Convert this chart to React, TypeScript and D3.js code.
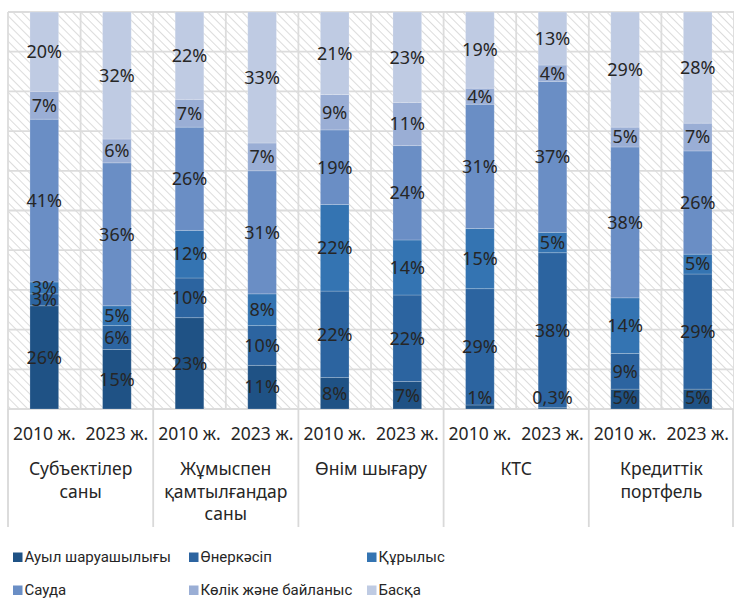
import * as d3 from 'd3';

const groups = [
  ['Субъектілер', 'саны'],
  ['Жұмыспен', 'қамтылғандар', 'саны'],
  ['Өнім шығару'],
  ['КТС'],
  ['Кредиттік', 'портфель'],
];
const years = ['2010 ж.', '2023 ж.'];

const sectors = ['Ауыл шаруашылығы', 'Өнеркәсіп', 'Құрылыс', 'Сауда', 'Көлік және байланыс', 'Басқа'];
const colors = ['#1f5285', '#2c64a0', '#3474b2', '#6a8ec5', '#9aaed5', '#bfcbe3'];

// one value per bar: group0 2010, group0 2023, group1 2010 ...
const agriculture = [26, 15, 23, 11, 8, 7, 1, 0.3, 5, 5];
const industry = [3, 6, 10, 10, 22, 22, 29, 38, 9, 29];
const construction = [3, 5, 12, 8, 22, 14, 15, 5, 14, 5];
const trade = [41, 36, 26, 31, 19, 24, 31, 37, 38, 26];
const transport = [7, 6, 7, 7, 9, 11, 4, 4, 5, 7];
const other = [20, 32, 22, 33, 21, 23, 19, 13, 29, 28];

const seriesValues = [agriculture, industry, construction, trade, transport, other];

const W = 734;
const H = 601;
const left = 8;
const top = 12;
const bottom = 409;
const right = 734;
const font = "'Noto Sans', sans-serif";
const fs = 18;
const axisFs = 17.5;

const App = () => {
  const bars = d3.range(agriculture.length).map((i) => {
    const row: Record<string, number> = { i };
    sectors.forEach((s, k) => (row[s] = seriesValues[k][i]));
    return row;
  });
  const stacked = d3.stack<Record<string, number>>().keys(sectors).offset(d3.stackOffsetExpand)(bars);

  const x = d3.scaleBand<number>().domain(d3.range(bars.length)).range([left, right]).paddingInner(0).paddingOuter(0);
  const y = d3.scaleLinear().domain([0, 1]).range([bottom, top]);
  const gx = d3.scaleBand<number>().domain(d3.range(groups.length)).range([left, right]);
  const barW = x.bandwidth() * 0.395;

  const fmt = (v: number) => String(v).replace('.', ',') + '%';

  const hLines = y.ticks(10);
  const vLines = d3.range(bars.length + 1).map((i) => left + i * x.step());

  const legendCols = [13, 189, 367];
  const legendRows = [557, 590];

  return (
    <svg width={W} height={H} style={{ position: 'absolute', left: 0, top: 0 }}>
      <defs>
        <pattern id="hatch" width="6" height="6" patternUnits="userSpaceOnUse" patternTransform="rotate(-45)">
          <rect width="6" height="6" fill="#ffffff" />
          <line x1="0" y1="0" x2="0" y2="6" stroke="#d4d4d4" strokeWidth="1.6" />
        </pattern>
      </defs>
      <rect x={left} y={top} width={right - left} height={bottom - top} fill="url(#hatch)" />
      {hLines.map((t) => (
        <line key={'h' + t} x1={left} x2={right} y1={y(t)} y2={y(t)} stroke="#dcdcdc" strokeWidth={1.8} />
      ))}
      {vLines.map((v, i) => (
        <line key={'v' + i} x1={v} x2={v} y1={top} y2={bottom} stroke="#dcdcdc" strokeWidth={1.8} />
      ))}
      {/* category axis */}
      {d3.range(groups.length + 1).map((i) => {
        const xx = i === groups.length ? right - 1 : left + i * gx.step();
        return <line key={'g' + i} x1={xx} x2={xx} y1={bottom} y2={527} stroke="#d9d9d9" strokeWidth={1.8} />;
      })}
      {stacked.map((s, k) => (
        <g key={s.key}>
          {s.map((d, i) => (
            <rect
              key={i}
              x={x(i)! + (x.bandwidth() - barW) / 2}
              y={y(d[1])}
              width={barW}
              height={y(d[0]) - y(d[1])}
              fill={colors[k]}
              stroke="#ffffff"
              strokeOpacity={0.25}
              strokeWidth={0.8}
            />
          ))}
        </g>
      ))}
      {stacked.map((s, k) => (
        <g key={'l' + s.key}>
          {s.map((d, i) => {
            const cy = Math.min((y(d[0]) + y(d[1])) / 2, bottom - 11);
            return (
              <text
                key={i}
                x={x(i)! + x.bandwidth() / 2}
                y={cy}
                dy="0.35em"
                textAnchor="middle"
                fontFamily={font}
                fontSize={fs}
                fill="#262626"
              >
                {fmt(seriesValues[k][i])}
              </text>
            );
          })}
        </g>
      ))}
      {bars.map((_, i) => (
        <text
          key={'yr' + i}
          x={x(i)! + x.bandwidth() / 2}
          y={440}
          textAnchor="middle"
          fontFamily={font}
          fontSize={axisFs}
          fill="#262626"
        >
          {years[i % 2]}
        </text>
      ))}
      {groups.map((lines, g) => (
        <text
          key={'grp' + g}
          x={gx(g)! + gx.bandwidth() / 2}
          y={475}
          textAnchor="middle"
          fontFamily={font}
          fontSize={axisFs}
          fill="#262626"
        >
          {lines.map((ln, j) => (
            <tspan key={j} x={gx(g)! + gx.bandwidth() / 2} dy={j === 0 ? 0 : 22.5}>
              {ln}
            </tspan>
          ))}
        </text>
      ))}
      {/* legend */}
      {sectors.map((s, k) => {
        const lx = legendCols[k % 3];
        const ly = legendRows[Math.floor(k / 3)];
        return (
          <g key={'lg' + k}>
            <rect x={lx} y={ly - 4.5} width={9.5} height={9.5} fill={colors[k]} />
            <text x={lx + 11.5} y={ly} dy="0.35em" fontFamily="Roboto, sans-serif" fontSize={15} fill="#262626">
              {s}
            </text>
          </g>
        );
      })}
    </svg>
  );
};

export default App;
